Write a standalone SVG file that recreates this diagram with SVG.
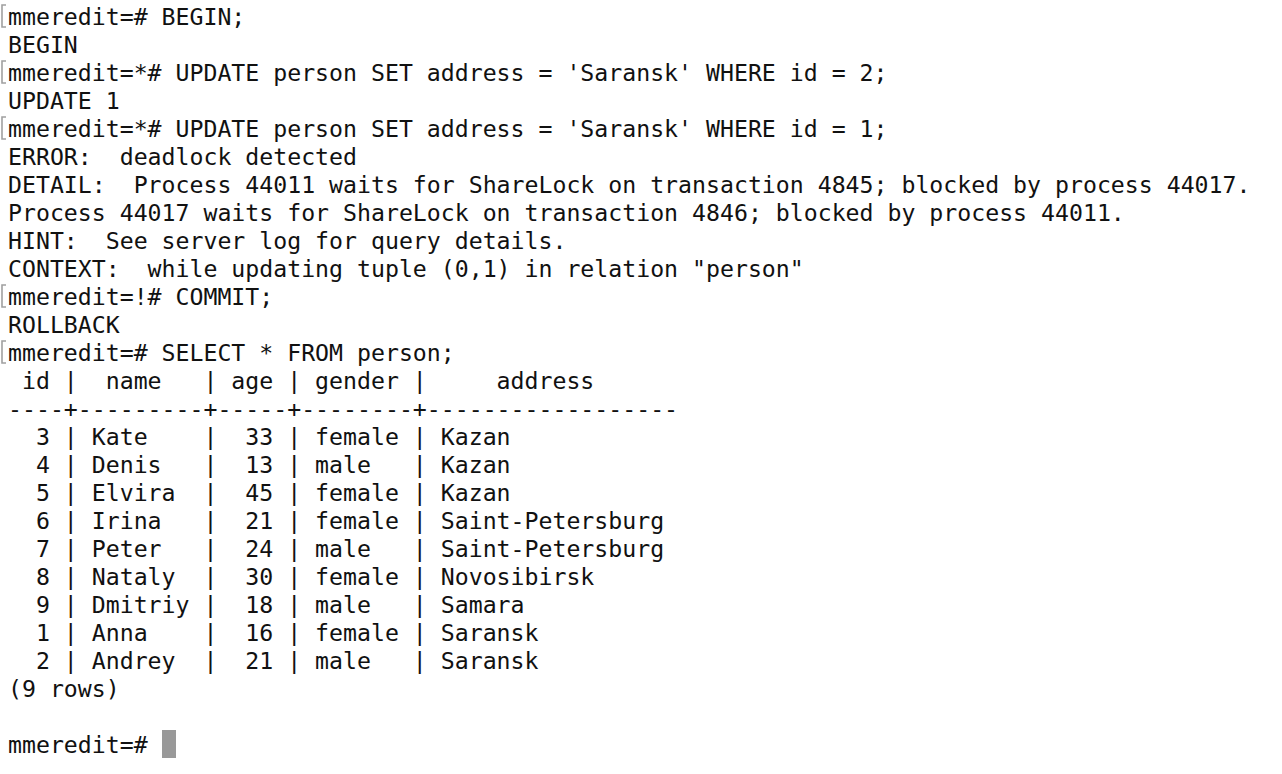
<svg xmlns="http://www.w3.org/2000/svg" width="1282" height="774" viewBox="0 0 1282 774">
<style>
.t text{font-family:"DejaVu Sans Mono","Liberation Mono",monospace;font-size:23.2px;fill:#111;white-space:pre}
.mk{fill:none;stroke:#a0a0a0;stroke-width:1.6}
</style>
<rect width="1282" height="774" fill="#fff"/>
<g id="marks">
<path class="mk" d="M6,5 H2 V27 H6"/>
<path class="mk" d="M6,61 H2 V83 H6"/>
<path class="mk" d="M6,117 H2 V139 H6"/>
<path class="mk" d="M6,285 H2 V307 H6"/>
<path class="mk" d="M6,341 H2 V363 H6"/>
</g>
<g id="terminal" class="t">
<text xml:space="preserve" x="8" y="24.5">mmeredit=# BEGIN;</text>
<text xml:space="preserve" x="8" y="52.5">BEGIN</text>
<text xml:space="preserve" x="8" y="80.5">mmeredit=*# UPDATE person SET address = 'Saransk' WHERE id = 2;</text>
<text xml:space="preserve" x="8" y="108.5">UPDATE 1</text>
<text xml:space="preserve" x="8" y="136.5">mmeredit=*# UPDATE person SET address = 'Saransk' WHERE id = 1;</text>
<text xml:space="preserve" x="8" y="164.5">ERROR:  deadlock detected</text>
<text xml:space="preserve" x="8" y="192.5">DETAIL:  Process 44011 waits for ShareLock on transaction 4845; blocked by process 44017.</text>
<text xml:space="preserve" x="8" y="220.5">Process 44017 waits for ShareLock on transaction 4846; blocked by process 44011.</text>
<text xml:space="preserve" x="8" y="248.5">HINT:  See server log for query details.</text>
<text xml:space="preserve" x="8" y="276.5">CONTEXT:  while updating tuple (0,1) in relation "person"</text>
<text xml:space="preserve" x="8" y="304.5">mmeredit=!# COMMIT;</text>
<text xml:space="preserve" x="8" y="332.5">ROLLBACK</text>
<text xml:space="preserve" x="8" y="360.5">mmeredit=# SELECT * FROM person;</text>
<text xml:space="preserve" x="8" y="388.5"> id |  name   | age | gender |     address      </text>
<text xml:space="preserve" x="8" y="416.5">----+---------+-----+--------+------------------</text>
<text xml:space="preserve" x="8" y="444.5">  3 | Kate    |  33 | female | Kazan</text>
<text xml:space="preserve" x="8" y="472.5">  4 | Denis   |  13 | male   | Kazan</text>
<text xml:space="preserve" x="8" y="500.5">  5 | Elvira  |  45 | female | Kazan</text>
<text xml:space="preserve" x="8" y="528.5">  6 | Irina   |  21 | female | Saint-Petersburg</text>
<text xml:space="preserve" x="8" y="556.5">  7 | Peter   |  24 | male   | Saint-Petersburg</text>
<text xml:space="preserve" x="8" y="584.5">  8 | Nataly  |  30 | female | Novosibirsk</text>
<text xml:space="preserve" x="8" y="612.5">  9 | Dmitriy |  18 | male   | Samara</text>
<text xml:space="preserve" x="8" y="640.5">  1 | Anna    |  16 | female | Saransk</text>
<text xml:space="preserve" x="8" y="668.5">  2 | Andrey  |  21 | male   | Saransk</text>
<text xml:space="preserve" x="8" y="696.5">(9 rows)</text>
<text xml:space="preserve" x="8" y="752.5">mmeredit=# </text>
</g>
<rect id="cursor" x="162" y="730" width="14" height="28" fill="#999"/>
</svg>
